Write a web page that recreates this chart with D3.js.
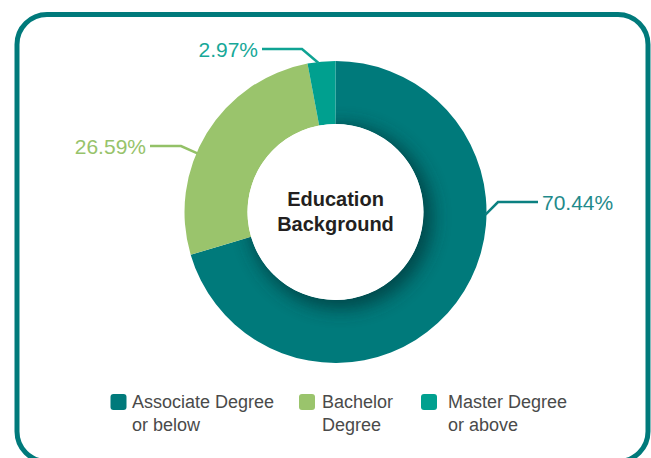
<!DOCTYPE html>
<html>
<head>
<meta charset="utf-8">
<script src="https://cdn.jsdelivr.net/npm/d3@7"></script>
<style>
  html, body { margin: 0; padding: 0; background: #fff; }
  svg { display: block; font-family: "Liberation Sans", Arial, sans-serif; }
</style>
</head>
<body>
<div id="chart"></div>
<script>
// data
const categories = ["Associate Degree or below", "Bachelor Degree", "Master Degree or above"];
const legendLines = [["Associate Degree", "or below"], ["Bachelor", "Degree"], ["Master Degree", "or above"]];
const shares = [70.44, 26.59, 2.97];
const shareLabels = ["70.44%", "26.59%", "2.97%"];
const colors = ["#007a7b", "#9ac46c", "#00a08f"];
const labelColors = ["#1f8a8b", "#97c36b", "#17a898"];
const lineColors = ["#0b8081", "#93c167", "#0fa393"];

const width = 651, height = 458;
const cx = 335.5, cy = 212;
const outerR = 151, innerR = 88;

const svg = d3.select("#chart").append("svg")
    .attr("width", width).attr("height", height);

// frame
svg.append("rect")
    .attr("x", 17).attr("y", 14.5)
    .attr("width", 631).attr("height", 447)
    .attr("rx", 30).attr("ry", 30)
    .attr("fill", "none").attr("stroke", "#007a7b").attr("stroke-width", 5);

const defs = svg.append("defs");
defs.append("filter").attr("id", "blur")
    .attr("x", "-50%").attr("y", "-50%").attr("width", "200%").attr("height", "200%")
    .append("feGaussianBlur").attr("stdDeviation", 9);

const pie = d3.pie().sort(null).value(d => d);
const arcs = pie(shares);
const arc = d3.arc().innerRadius(innerR).outerRadius(outerR);

const g = svg.append("g").attr("transform", "translate(" + cx + "," + cy + ")");

g.selectAll("path.slice").data(arcs).join("path")
    .attr("class", "slice")
    .attr("d", arc)
    .attr("fill", (d, i) => colors[i]);

// inner shadow on the big slice
defs.append("clipPath").attr("id", "clipMain")
    .append("path").attr("d", arc(arcs[0]));
g.append("g").attr("clip-path", "url(#clipMain)")
    .append("circle")
    .attr("cx", 5).attr("cy", 5).attr("r", innerR + 4)
    .attr("fill", "#00383a").attr("opacity", 0.75)
    .attr("filter", "url(#blur)");

g.append("circle").attr("r", innerR).attr("fill", "#fff");

// centre title
g.append("text").attr("text-anchor", "middle").attr("y", -6)
    .style("font-size", "20px").style("font-weight", "bold").attr("fill", "#231f20")
    .text("Education");
g.append("text").attr("text-anchor", "middle").attr("y", 19)
    .style("font-size", "20px").style("font-weight", "bold").attr("fill", "#231f20")
    .text("Background");

// leader lines: anchor angle on the ring, elbow point, label end
const anchorAngles = [91, 293, 353.5];
const elbows = [[498 - cx, 202 - cy], [181 - cx, 146 - cy], [302 - cx, 49 - cy]];
const lineEnds = [[538 - cx, 202 - cy], [150 - cx, 146 - cy], [262 - cx, 49 - cy]];

arcs.forEach((d, i) => {
    const a = anchorAngles[i] * Math.PI / 180;
    const r = outerR - 1;
    const p0 = [r * Math.sin(a), -r * Math.cos(a)];
    g.append("polyline")
        .attr("points", [p0, elbows[i], lineEnds[i]].map(p => p.join(",")).join(" "))
        .attr("fill", "none").attr("stroke", lineColors[i]).attr("stroke-width", 2.5);
    const right = lineEnds[i][0] > 0;
    g.append("text")
        .attr("x", lineEnds[i][0] + (right ? 4 : -4))
        .attr("y", lineEnds[i][1] + 7.5)
        .attr("text-anchor", right ? "start" : "end")
        .style("font-size", "21px")
        .attr("fill", labelColors[i])
        .text(shareLabels[i]);
});

// legend
const legendX = [110.5, 299, 421];
const legendTextX = [132, 322, 448];
const legend = svg.append("g");
categories.forEach((c, i) => {
    legend.append("rect")
        .attr("x", legendX[i]).attr("y", 394)
        .attr("width", 16).attr("height", 16).attr("rx", 3)
        .attr("fill", colors[i]);
    const t = legend.append("text")
        .attr("x", legendTextX[i]).attr("y", 408)
        .style("font-size", "18px").attr("fill", "#4a4a4a");
    legendLines[i].forEach((ln, j) => {
        t.append("tspan").attr("x", legendTextX[i]).attr("dy", j === 0 ? 0 : 23).text(ln);
    });
});
</script>
</body>
</html>
